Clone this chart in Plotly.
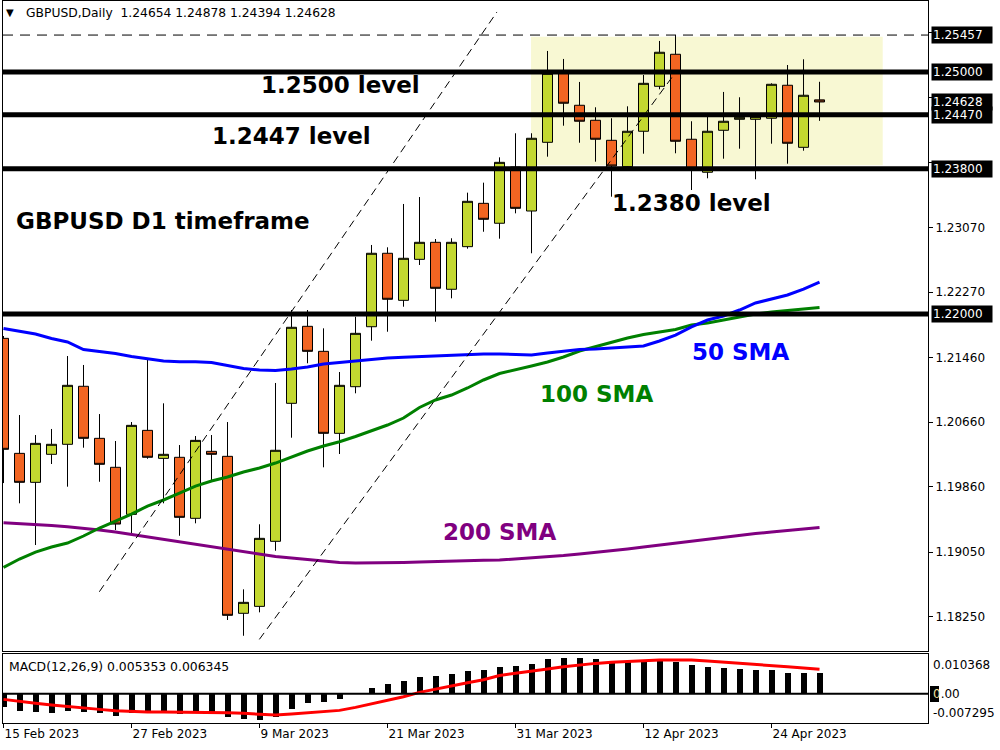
import plotly.graph_objects as go

# ---------------- data ----------------
candle_idx = list(range(52))
opens = [1.21699, 1.20274, 1.19915, 1.20262, 1.20386, 1.21105, 1.20460, 1.20101, 1.19518, 1.20559,
         1.20212, 1.20225, 1.19469, 1.20299, 1.20237, 1.18292, 1.18378, 1.19184, 1.20894, 1.21848,
         1.21538, 1.20522, 1.21100, 1.21843, 1.22753, 1.22170, 1.22678, 1.22889, 1.22307, 1.22835,
         1.23372, 1.23125, 1.23822, 1.23277, 1.24128, 1.24983, 1.24587, 1.24401, 1.24153, 1.23826,
         1.24265, 1.24822, 1.25219, 1.24166, 1.23757, 1.24277, 1.24413, 1.24413, 1.24426, 1.24835,
         1.24066, 1.24654]
highs = [1.21728, 1.20749, 1.20501, 1.20576, 1.21480, 1.21369, 1.20761, 1.20427, 1.20662, 1.21431,
         1.20894, 1.20377, 1.20489, 1.20501, 1.20662, 1.18589, 1.19395, 1.21146, 1.22050, 1.22050,
         1.21823, 1.21282, 1.21967, 1.22856, 1.22827, 1.23364, 1.23450, 1.22930, 1.22939, 1.23504,
         1.23628, 1.23942, 1.24240, 1.24240, 1.25260, 1.25161, 1.24876, 1.24562, 1.24426, 1.24574,
         1.24962, 1.25384, 1.25457, 1.24389, 1.24463, 1.24752, 1.24686, 1.24452, 1.24859, 1.25086,
         1.25157, 1.24878]
lows = [1.19906, 1.19655, 1.19138, 1.20142, 1.19861, 1.20344, 1.19922, 1.19324, 1.19283, 1.20207,
        1.19655, 1.19253, 1.19407, 1.19922, 1.18209, 1.18014, 1.18304, 1.19067, 1.20468, 1.21390,
        1.20101, 1.20266, 1.21018, 1.21670, 1.21781, 1.22091, 1.22608, 1.21905, 1.22195, 1.22810,
        1.23020, 1.22934, 1.23248, 1.22753, 1.23950, 1.24334, 1.24123, 1.23888, 1.23454, 1.23776,
        1.23987, 1.24785, 1.23992, 1.23537, 1.23682, 1.23925, 1.24049, 1.23670, 1.24111, 1.23863,
        1.24024, 1.24394]
closes = [1.20324, 1.19915, 1.20398, 1.20386, 1.21117, 1.20460, 1.20138, 1.19398, 1.20621, 1.20225,
          1.20262, 1.19481, 1.20435, 1.20262, 1.18267, 1.18428, 1.19221, 1.20312, 1.21836, 1.21538,
          1.20522, 1.21117, 1.21761, 1.22753, 1.22183, 1.22691, 1.22889, 1.22319, 1.22889, 1.23397,
          1.23174, 1.23880, 1.23310, 1.24178, 1.24983, 1.24612, 1.24389, 1.24166, 1.23835, 1.24265,
          1.24859, 1.25244, 1.24141, 1.23785, 1.24265, 1.24389, 1.24438, 1.24446, 1.24847, 1.24116,
          1.24711, 1.24628]

sma50 = [1.21821, 1.21784, 1.21753, 1.21697, 1.21654, 1.21561, 1.21536, 1.21511, 1.21474, 1.21443,
         1.21418, 1.21410, 1.21410, 1.21400, 1.21362, 1.21325, 1.21307, 1.21300, 1.21319, 1.21344,
         1.21381, 1.21400, 1.21418, 1.21437, 1.21455, 1.21464, 1.21474, 1.21480, 1.21493, 1.21499,
         1.21505, 1.21505, 1.21499, 1.21493, 1.21517, 1.21542, 1.21561, 1.21567, 1.21579, 1.21592,
         1.21604, 1.21666, 1.21740, 1.21840, 1.21926, 1.21976, 1.22050, 1.22137, 1.22186, 1.22236,
         1.22310, 1.22397]
sma100 = [1.18859, 1.18965, 1.19051, 1.19113, 1.19163, 1.19250, 1.19349, 1.19435, 1.19522, 1.19621,
          1.19696, 1.19782, 1.19869, 1.19931, 1.19981, 1.20043, 1.20092, 1.20154, 1.20229, 1.20303,
          1.20365, 1.20418, 1.20483, 1.20557, 1.20625, 1.20712, 1.20842, 1.20935, 1.20997, 1.21084,
          1.21183, 1.21263, 1.21307, 1.21356, 1.21406, 1.21468, 1.21542, 1.21598, 1.21654, 1.21703,
          1.21747, 1.21778, 1.21809, 1.21864, 1.21889, 1.21926, 1.21963, 1.22001, 1.22025, 1.22044,
          1.22063, 1.22081]
sma200 = [1.19414, 1.19405, 1.19392, 1.19380, 1.19365, 1.19349, 1.19324, 1.19299, 1.19268, 1.19237,
          1.19206, 1.19175, 1.19144, 1.19113, 1.19082, 1.19051, 1.19027, 1.18996, 1.18977, 1.18958,
          1.18940, 1.18921, 1.18915, 1.18915, 1.18915, 1.18921, 1.18927, 1.18934, 1.18940, 1.18946,
          1.18948, 1.18952, 1.18965, 1.18977, 1.18996, 1.19008, 1.19027, 1.19045, 1.19064, 1.19089,
          1.19113, 1.19138, 1.19157, 1.19188, 1.19212, 1.19237, 1.19262, 1.19281, 1.19299, 1.19318,
          1.19336, 1.19355]

macd_hist = [-0.00354, -0.00440, -0.00475, -0.00492, -0.00440, -0.00466, -0.00492, -0.00570, -0.00510, -0.00492,
             -0.00492, -0.00535, -0.00492, -0.00492, -0.00596, -0.00665, -0.00682, -0.00596, -0.00397, -0.00233,
             -0.00216, -0.00138, 0.00010, 0.00155, 0.00259, 0.00328, 0.00423, 0.00466, 0.00510, 0.00587,
             0.00613, 0.00699, 0.00725, 0.00769, 0.00898, 0.00924, 0.00924, 0.00898, 0.00786, 0.00812,
             0.00820, 0.00846, 0.00829, 0.00743, 0.00699, 0.00674, 0.00639, 0.00613, 0.00613, 0.00544,
             0.00544, 0.005353]
macd_signal = [-0.00147, -0.00207, -0.00250, -0.00294, -0.00337, -0.00371, -0.00406, -0.00440, -0.00466, -0.00475,
               -0.00475, -0.00475, -0.00475, -0.00475, -0.00492, -0.00509, -0.00535, -0.00553, -0.00527, -0.00501,
               -0.00475, -0.00432, -0.00354, -0.00268, -0.00181, -0.00078, 0.00035, 0.00112, 0.00199, 0.00285,
               0.00363, 0.00470, 0.00530, 0.00575, 0.00639, 0.00699, 0.00751, 0.00786, 0.00812, 0.00838,
               0.00855, 0.00872, 0.00872, 0.00872, 0.00846, 0.00820, 0.00786, 0.00760, 0.00734, 0.00699,
               0.00665, 0.006345]

date_tick_idx = [0, 8, 16, 24, 32, 40, 48]
date_tick_text = ["15 Feb 2023", "27 Feb 2023", "9 Mar 2023", "21 Mar 2023",
                  "31 Mar 2023", "12 Apr 2023", "24 Apr 2023"]
price_ticks = [1.18250, 1.19050, 1.19860, 1.20660, 1.21460, 1.22270, 1.23070, 1.23880, 1.24680, 1.25490]
hidden_ticks = [1.23880, 1.24680, 1.25490]   # covered by price boxes in the reference

key_levels = [1.25000, 1.24470, 1.23800, 1.22000]
high_line = 1.25457
last_price = 1.24628
marked_prices = [1.25457, 1.25000, 1.24628, 1.24470, 1.23800, 1.22000]

zone_x = [32.97, 54.95]
zone_y = [1.23843, 1.25437]
trend1_x, trend1_y = [5.99, 30.84], [1.18559, 1.25743]
trend2_x, trend2_y = [15.99, 42.01], [1.17969, 1.24996]

header = "GBPUSD,Daily\u00a0 1.24654 1.24878 1.24394 1.24628"
macd_header = "MACD(12,26,9) 0.005353 0.006345"

# ---------------- styling ----------------
W, H = 1000, 750
BULL = "#C3D830"
BEAR = "#F26522"
FONT = "DejaVu Sans"


def px(x):
    return x / W


def py(y):
    return 1 - y / H


X_RANGE = [-0.03125, 57.78]
X_DOM = [px(3), px(928)]

fig = go.Figure()

fig.add_trace(go.Candlestick(
    x=candle_idx, open=opens, high=highs, low=lows, close=closes,
    increasing=dict(fillcolor=BULL, line=dict(color="black", width=1)),
    decreasing=dict(fillcolor=BEAR, line=dict(color="black", width=1)),
    whiskerwidth=0, xaxis="x", yaxis="y", showlegend=False, hoverinfo="skip"))

for vals, col in [(sma200, "#800080"), (sma100, "#008000"), (sma50, "#0000FF")]:
    fig.add_trace(go.Scatter(x=candle_idx, y=vals, mode="lines",
                             line=dict(color=col, width=3), xaxis="x", yaxis="y",
                             showlegend=False, hoverinfo="skip"))

fig.add_trace(go.Bar(x=candle_idx, y=macd_hist, width=0.375, marker=dict(color="black", line=dict(width=0)),
                     xaxis="x2", yaxis="y2", showlegend=False, hoverinfo="skip"))
fig.add_trace(go.Scatter(x=candle_idx, y=macd_signal, mode="lines", line=dict(color="#FF0000", width=3),
                         xaxis="x2", yaxis="y2", showlegend=False, hoverinfo="skip"))

shapes = []
shapes.append(dict(type="rect", xref="x", yref="y", x0=zone_x[0], x1=zone_x[1], y0=zone_y[0], y1=zone_y[1],
                   fillcolor="#F8F8D3", line=dict(width=0), layer="below"))
for lv in key_levels:
    shapes.append(dict(type="line", xref="x domain", yref="y", x0=0, x1=1, y0=lv, y1=lv,
                       line=dict(color="black", width=5), layer="above"))
shapes.append(dict(type="line", xref="x domain", yref="y", x0=0, x1=1, y0=high_line, y1=high_line,
                   line=dict(color="black", width=1, dash="10px,7px"), layer="above"))
for tx, ty in [(trend1_x, trend1_y), (trend2_x, trend2_y)]:
    shapes.append(dict(type="line", xref="x", yref="y", x0=tx[0], x1=tx[1], y0=ty[0], y1=ty[1],
                       line=dict(color="black", width=1, dash="8px,5px"), layer="above"))
shapes.append(dict(type="line", xref="x2 domain", yref="y2", x0=0, x1=1, y0=0, y1=0,
                   line=dict(color="black", width=2), layer="above"))
shapes.append(dict(type="rect", xref="paper", yref="paper", x0=px(930), x1=px(939), y0=py(702), y1=py(686),
                   fillcolor="black", line=dict(width=0)))

ann = []
ann.append(dict(xref="paper", yref="paper", x=px(24), y=py(13), text=header, showarrow=False,
                xanchor="left", yanchor="middle", font=dict(family=FONT, size=12.3, color="black")))
ann.append(dict(xref="paper", yref="paper", x=px(4), y=py(12), text="\u25BC", showarrow=False,
                xanchor="left", yanchor="middle", font=dict(family=FONT, size=10, color="black")))
ann.append(dict(xref="paper", yref="paper", x=px(7), y=py(666), text=macd_header, showarrow=False,
                xanchor="left", yanchor="middle", font=dict(family=FONT, size=12.4, color="black")))

big = dict(family=FONT, size=23)
labels = [("1.2500 level", 340, 84.5, "black"),
          ("1.2447 level", 291.5, 136, "black"),
          ("1.2380 level", 691.7, 203, "black"),
          ("GBPUSD D1 timeframe", 163, 221, "black"),
          ("50 SMA", 740, 351.7, "#0000FF"),
          ("100 SMA", 596, 393.7, "#008000"),
          ("200 SMA", 499.7, 531.7, "#800080")]
for t, x, y, c in labels:
    ann.append(dict(xref="paper", yref="paper", x=px(x), y=py(y), text="<b>" + t + "</b>", showarrow=False,
                    xanchor="center", yanchor="middle", font=dict(big, color=c)))

for pv in marked_prices:
    ann.append(dict(xref="paper", yref="y", x=px(930.5), y=pv, text=f"{pv:.5f}", showarrow=False,
                    xanchor="left", yanchor="middle", align="left", width=58, height=14,
                    bgcolor="black", borderpad=1, font=dict(family=FONT, size=12, color="white")))

for t, y in [("0.010368", 665), ('<span style="color:#F0E0A0">0</span>.00', 694), ("-0.007295", 713)]:
    ann.append(dict(xref="paper", yref="paper", x=px(931), y=py(y), text=t, showarrow=False,
                    xanchor="left", yanchor="middle", font=dict(family=FONT, size=12, color="black")))

axis_common = dict(showline=True, linecolor="black", linewidth=1, mirror=True, showgrid=False,
                   zeroline=False, fixedrange=True)

fig.update_layout(
    width=W, height=H, margin=dict(l=0, r=0, t=0, b=0),
    paper_bgcolor="white", plot_bgcolor="white",
    boxgap=0.375, boxgroupgap=0, bargap=0,
    showlegend=False,
    font=dict(family=FONT, size=12, color="black"),
    xaxis=dict(axis_common, domain=X_DOM, range=X_RANGE, anchor="y", showticklabels=False, ticks="",
               rangeslider=dict(visible=False)),
    yaxis=dict(axis_common, domain=[py(651), py(1)], range=[1.17825, 1.25879], anchor="x", side="right",
               tickvals=price_ticks,
               ticktext=["" if v in hidden_ticks else f"{v:.5f}" for v in price_ticks],
               ticks="outside", ticklen=4,
               tickcolor="black", tickfont=dict(family=FONT, size=12, color="black")),
    xaxis2=dict(axis_common, domain=X_DOM, range=X_RANGE, anchor="y2", tickvals=date_tick_idx,
                ticktext=date_tick_text, ticks="outside", ticklen=4, tickcolor="black",
                ticklabelposition="outside right", tickfont=dict(family=FONT, size=12, color="black")),
    yaxis2=dict(axis_common, domain=[py(722.5), py(654)], range=[-0.00746, 0.01029], anchor="x2", side="right",
                showticklabels=False, ticks=""),
    shapes=shapes, annotations=ann,
)

fig.write_html("out.html", config={"displayModeBar": False},
               post_script="document.body.style.margin='0px';document.body.style.overflow='hidden';")
